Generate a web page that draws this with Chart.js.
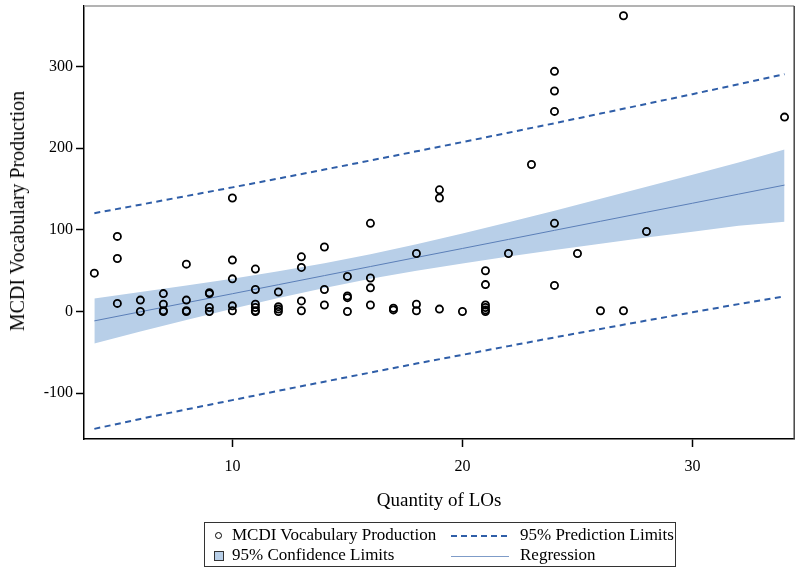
<!DOCTYPE html>
<html><head><meta charset="utf-8">
<script src="https://cdn.jsdelivr.net/npm/chart.js@4.4.0/dist/chart.umd.min.js"></script>
<style>
html,body{margin:0;padding:0;background:#fff;}
#wrap{position:relative;width:800px;height:570px;}
#ytitle{position:absolute;left:17px;top:211px;transform:translate(-50%,-50%) rotate(-90deg);white-space:nowrap;font-family:"Liberation Serif",serif;font-size:20px;color:#000;line-height:22px;}
#legend{position:absolute;left:204px;top:522px;width:472px;height:45px;border:1.5px solid #333;box-sizing:border-box;font-family:"Liberation Serif",serif;font-size:17px;color:#000;}
#legend .t{position:absolute;line-height:20px;white-space:nowrap;}
#legend .c{position:absolute;width:7px;height:7px;border:1.5px solid #000;border-radius:50%;box-sizing:border-box;}
#legend .s{position:absolute;width:10px;height:10px;border:1px solid #333;background:#b8cfe8;box-sizing:border-box;}
#legend .d{position:absolute;height:2px;width:58px;background:repeating-linear-gradient(to right,#2f5ea8 0 6px,rgba(0,0,0,0) 6px 10px);}
#legend .r{position:absolute;height:1px;width:58px;background:#7f9cc8;}
</style></head>
<body>
<div id="wrap">
<canvas id="c" width="800" height="570"></canvas>
<div id="ytitle">MCDI Vocabulary Production</div>
<div id="legend">
  <div class="c" style="left:10px;top:9px"></div>
  <div class="t" style="left:27px;top:2px">MCDI Vocabulary Production</div>
  <div class="d" style="left:246px;top:12px"></div>
  <div class="t" style="left:315px;top:2px">95% Prediction Limits</div>
  <div class="s" style="left:9px;top:28px"></div>
  <div class="t" style="left:27px;top:22px">95% Confidence Limits</div>
  <div class="r" style="left:246px;top:33px"></div>
  <div class="t" style="left:315px;top:22px">Regression</div>
</div>
</div>
<script>
// Observed points
const loQuantity = [4, 5,5,5, 6,6, 7,7,7,7, 8,8,8,8, 9,9,9,9, 10,10,10,10,10,
  11,11,11,11,11,11, 12,12,12,12, 13,13,13,13, 14,14,14, 15,15,15,15,
  16,16,16,16, 17,17, 18,18,18, 19,19,19, 20, 21,21,21,21,21,21, 22, 23,
  24,24,24,24,24, 25, 26, 27,27, 28, 34];
const vocabProduction = [47, 92,65,10, 14,0, 22,9,1,0, 58,14,1,0, 23,22,5,0, 139,63,40,7,1,
  52,27,9,5,1,0, 24,6,3,0, 67,54,13,1, 79,27,8, 43,19,17,0,
  108,41,29,8, 4,2, 71,9,1, 149,139,3, 0, 50,33,8,5,2,0, 71, 180,
  294,270,245,108,32, 71, 1, 362,1, 98, 238];

// Fitted curves
const fitX       = [4, 6, 8, 10, 12, 14, 16, 18, 20, 22, 24, 26, 28, 30, 32, 34];
const regression = [-11.4, -0.3, 10.8, 21.8, 32.9, 44.0, 55.1, 66.2, 77.2, 88.3, 99.4, 110.5, 121.6, 132.6, 143.7, 154.8];
const confUpper  = [16, 23.8, 31.8, 40.1, 49.2, 59.1, 70.2, 82.5, 95.5, 109.3, 123.5, 138, 152.7, 167.4, 182.3, 198.5];
const confLower  = [-39, -24.4, -10.2, 3.5, 16.6, 28.9, 40, 49.9, 58.9, 67.3, 75.3, 83, 90.5, 97.8, 105.1, 110];
const predUpper  = [120.4, 130.8, 141.4, 152.0, 162.8, 173.8, 184.9, 196.1, 207.4, 218.9, 230.5, 242.3, 254.2, 266.1, 278.3, 290.5];
const predLower  = [-143.6, -131.4, -119.8, -108.4, -97.0, -85.8, -74.7, -63.7, -53.0, -42.3, -31.7, -21.3, -11.0, -0.9, 9.1, 18.5];

const xTicks = [10, 20, 30];
const yTicks = [-100, 0, 100, 200, 300];

const pts = loQuantity.map((x, i) => ({x: x, y: vocabProduction[i]}));
const toXY = arr => fitX.map((x, i) => ({x: x, y: arr[i]}));
const serif = '"Liberation Serif", "Times New Roman", serif';

const framePlugin = {
  id: 'frame',
  afterDraw(chart) {
    const {ctx, chartArea: {left, right, top, bottom}} = chart;
    ctx.save();
    ctx.lineWidth = 1.5;
    ctx.strokeStyle = '#9a9a9a';
    ctx.beginPath(); ctx.moveTo(left, top); ctx.lineTo(right, top); ctx.stroke();
    ctx.strokeStyle = '#444';
    ctx.beginPath(); ctx.moveTo(right, top); ctx.lineTo(right, bottom); ctx.stroke();
    ctx.restore();
  }
};

new Chart(document.getElementById('c'), {
  type: 'scatter',
  data: {
    datasets: [
      {label: 'MCDI Vocabulary Production', data: pts, showLine: false,
       pointRadius: 3.6, pointBorderWidth: 1.8, pointBorderColor: '#000',
       pointBackgroundColor: 'rgba(0,0,0,0)', order: 0},
      {label: 'Regression', data: toXY(regression), showLine: true,
       borderColor: '#5b7fb8', borderWidth: 1, pointRadius: 0, fill: false, order: 1},
      {label: '95% Prediction Limits', data: toXY(predUpper), showLine: true,
       borderColor: '#2f5ea8', borderWidth: 2, borderDash: [6, 4.5], pointRadius: 0, fill: false, order: 2},
      {label: '95% Prediction Limits (lower)', data: toXY(predLower), showLine: true,
       borderColor: '#2f5ea8', borderWidth: 2, borderDash: [6, 4.5], pointRadius: 0, fill: false, order: 2},
      {label: '95% Confidence Limits', data: toXY(confUpper), showLine: true,
       borderColor: 'rgba(0,0,0,0)', borderWidth: 0, backgroundColor: '#b8cfe8',
       pointRadius: 0, fill: '+1', order: 3},
      {label: '95% Confidence Limits (lower)', data: toXY(confLower), showLine: true,
       borderColor: 'rgba(0,0,0,0)', borderWidth: 0, pointRadius: 0, fill: false, order: 4}
    ]
  },
  options: {
    responsive: false,
    animation: false,
    devicePixelRatio: 1,
    layout: {padding: {left: 0, right: 0, top: 6, bottom: 51}},
    plugins: {legend: {display: false}, tooltip: {enabled: false}},
    scales: {
      x: {
        type: 'linear', min: 3.55, max: 34.42,
        afterBuildTicks: s => { s.ticks = xTicks.map(v => ({value: v})); },
        afterFit: s => { s.height = 80; s.paddingLeft = 0; s.paddingRight = 0; },
        grid: {drawOnChartArea: false, drawTicks: true, tickLength: 8, tickColor: '#000', tickWidth: 1.5},
        border: {display: true, color: '#000', width: 1.5},
        ticks: {color: '#000', font: {family: serif, size: 16}, padding: 10, maxRotation: 0},
        title: {display: true, text: 'Quantity of LOs', color: '#000',
                font: {family: serif, size: 19}, padding: {top: 0, bottom: 7}}
      },
      y: {
        type: 'linear', min: -156, max: 374,
        afterBuildTicks: s => { s.ticks = yTicks.map(v => ({value: v})); },
        afterFit: s => { s.width = 84; s.paddingTop = 0; s.paddingBottom = 0; },
        grid: {drawOnChartArea: false, drawTicks: true, tickLength: 8, tickColor: '#000', tickWidth: 1.5},
        border: {display: true, color: '#000', width: 1.5},
        ticks: {color: '#000', font: {family: serif, size: 16}, padding: 3},
        title: {display: false}
      }
    }
  },
  plugins: [framePlugin]
});
</script>
</body></html>
